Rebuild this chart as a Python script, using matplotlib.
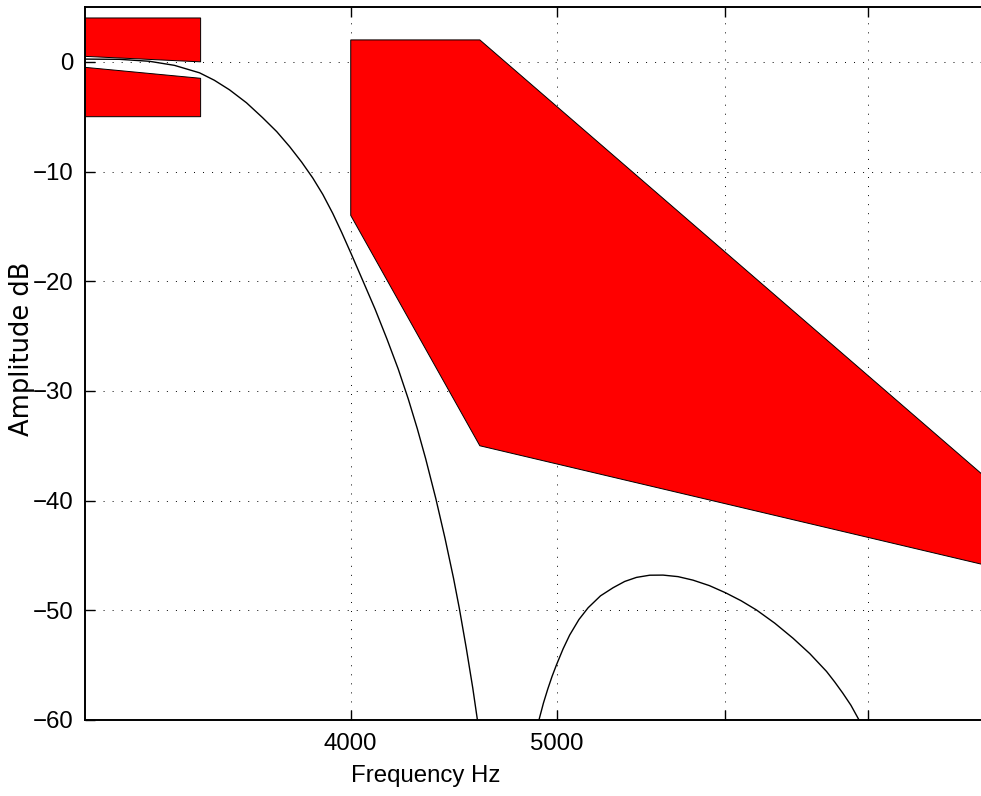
import matplotlib
matplotlib.use("Agg")
import matplotlib.pyplot as plt

# filter response (Hz, dB)
f_pass = [3000, 3114, 3217, 3305, 3396, 3451, 3508, 3573, 3636, 3692, 3744,
          3793, 3839, 3881, 3923, 3961, 4003, 4050, 4107, 4160, 4211, 4257,
          4299, 4338, 4386, 4430, 4471, 4499, 4533, 4565, 4588]
db_pass = [0.25, 0.23, 0.05, -0.32, -1.0, -1.68, -2.55, -3.73, -5.09, -6.36, -7.73,
           -9.14, -10.59, -12.09, -13.82, -15.55, -17.55, -19.82, -22.55, -25.27, -28.0, -30.73,
           -33.45, -36.18, -39.82, -43.45, -47.09, -49.82, -53.45, -57.09, -60.0]

f_stop = [4904, 4928, 4951, 4974, 4998, 5034, 5070, 5121, 5172, 5242, 5314,
          5381, 5450, 5529, 5609, 5701, 5794, 5898, 6003, 6104, 6206, 6330,
          6457, 6575, 6695, 6754, 6814, 6874, 6935]
db_stop = [-60.0, -58.45, -57.18, -56.03, -54.97, -53.51, -52.25, -50.84, -49.77, -48.68, -47.94,
           -47.37, -47.0, -46.8, -46.79, -46.93, -47.25, -47.75, -48.41, -49.13, -49.97, -51.17,
           -52.55, -53.95, -55.57, -56.52, -57.55, -58.65, -60.0]

# specification masks
mask_hi_f = [3000, 3400, 3400, 3000]
mask_hi_db = [4, 4, 0, 0.5]
mask_lo_f = [3000, 3400, 3400, 3000]
mask_lo_db = [-0.5, -1.5, -5, -5]
mask_stop_f = [4000, 4600, 8000, 8000, 4600, 4000]
mask_stop_db = [2, 2, -38.3, -46, -35, -14]

xticks = [4000, 5000, 6000, 7000]
xticklabels = ["4000", "5000", "", ""]
yticks = [-60, -50, -40, -30, -20, -10, 0]

plt.rcParams['font.family'] = ['Liberation Sans', 'DejaVu Sans']
fs = 17.3

fig = plt.figure(figsize=(9.81, 7.96), dpi=100)
ax = fig.add_axes([85/981, 76/796, 906/981, 713/796])

for fx, fy in [(mask_hi_f, mask_hi_db), (mask_lo_f, mask_lo_db),
               (mask_stop_f, mask_stop_db)]:
    ax.fill(fx, fy, facecolor='#ff0000', edgecolor='black', linewidth=0.7, zorder=2)

ax.plot(f_pass, db_pass, color='black', linewidth=1.0, zorder=3)
ax.plot(f_stop, db_stop, color='black', linewidth=1.0, zorder=3)

ax.set_xscale('log')
ax.set_xlim(3000, 8000)
ax.set_ylim(-60, 5)
ax.set_xticks(xticks)
ax.set_xticklabels(xticklabels)
ax.minorticks_off()
ax.set_yticks(yticks)

ax.set_axisbelow(True)
ax.grid(True, color='black', linestyle=(0, (1, 8.3)), linewidth=0.7)
ax.tick_params(direction='in', length=7, width=1.0, top=True, right=True,
               labelsize=fs)
ax.tick_params(axis='x', pad=9)
ax.tick_params(axis='y', pad=8)
for s in ax.spines.values():
    s.set_linewidth(1.4)

ax.set_xlabel('Frequency Hz', fontsize=fs, va='center')
ax.xaxis.set_label_coords(0.376, -0.0785)
ax.set_ylabel('Amplitude dB', fontsize=18.5, va='center', family=['DejaVu Sans'])
ax.yaxis.set_label_coords(-0.0695, 0.52)

fig.savefig('out.png', dpi=100)
